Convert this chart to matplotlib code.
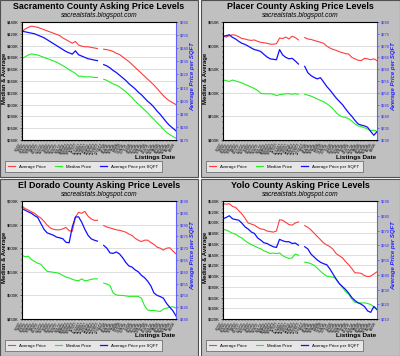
import numpy as np
import matplotlib
matplotlib.use("Agg")
import matplotlib.pyplot as plt
from matplotlib.patches import Rectangle
from matplotlib.ticker import FuncFormatter, MultipleLocator, AutoMinorLocator

plt.rcParams['font.family'] = ['Liberation Sans', 'DejaVu Sans']

nan = np.nan

# Listing dates (weekly), one tick per sample
dates = ['7/2/07', '7/9/07', '7/16/07', '7/23/07', '7/30/07', '8/6/07', '8/13/07', '8/20/07',
         '8/27/07', '9/3/07', '9/10/07', '9/17/07', '9/24/07', '10/1/07', '10/8/07', '10/15/07',
         '10/22/07', '10/29/07', '11/5/07', '11/12/07', '11/19/07', '11/26/07', '12/3/07',
         '12/10/07', '12/17/07', '12/24/07', '12/31/07', '1/7/08', '1/14/08', '1/21/08',
         '1/28/08', '2/4/08', '2/11/08', '2/18/08', '2/25/08', '3/3/08', '3/10/08', '3/17/08',
         '3/24/08', '3/31/08', '4/7/08', '4/14/08', '4/21/08', '4/28/08', '5/5/08', '5/12/08',
         '5/19/08', '5/26/08', '6/2/08', '6/9/08']

###############################################################
# Sacramento ($K, $/sqft)
###############################################################
sac_avg = [424, 428, 431, 433, 432, 431, 429, 427, 425, 423, 421, 419, 417, 413, 410, 407, 404, 407,
           401, 399, 398, 398, 397, 396, 395, nan, 394, 393, 392, 390, 387, 385, 381, 377, 373, 368,
           363, 358, 353, 348, 343, 338, 333, 327, 321, 315, 310, 306, 303, 300]
sac_med = [378, 381, 384, 386, 385, 384, 382, 380, 378, 376, 374, 372, 369, 366, 363, 359, 356, 353,
           348, 348, 347, 347, 347, 346, 346, nan, 343, 341, 338, 335, 333, 330, 326, 322, 317, 312,
           306, 301, 296, 291, 286, 280, 275, 269, 264, 258, 253, 249, 246, 243]
sac_sqft = [253, 252.5, 252, 251.5, 251, 250, 249, 248, 246.5, 245, 243.5, 242, 240.5, 239, 237.5,
            236.5, 235.5, 238, 235, 234, 233, 232, 231.5, 231, 230.5, nan, 227.5, 226.5, 225, 223,
            221.5, 219.5, 217.5, 215.5, 213, 211, 209, 206.5, 204.5, 202, 199.5, 197.5, 195, 192,
            189.5, 186.5, 183.5, 181, 179, 177]

###############################################################
# Placer
###############################################################
pla_avg = [620, 618, 621, 623, 622, 619, 615, 614, 612, 611, 612, 609, 607, 606, 605, 603, 603, 604,
           616, 615, 618, 614, 620, 617, 612, nan, 617, 614, 613, 611, 609, 607, 605, 599, 595, 592,
           590, 587, 585, 583, 582, 575, 572, 569, 568, 573, 572, 570, 572, 568]
pla_med = [527, 526, 524, 527, 525, 523, 521, 518, 515, 512, 509, 505, 499, 498, 498, 498, 497, 494,
           496, 497, 498, 498, 497, 498, 497, nan, 497, 495, 493, 490, 487, 484, 481, 477, 472, 466,
           458, 452, 449, 448, 445, 440, 434, 430, 428, 426, 423, 420, 421, 418]
pla_sqft = [274, 274.2, 274.6, 273.5, 272.8, 271.8, 271, 270.5, 269.8, 269, 268.3, 268, 267.5, 266.3,
            265.2, 264.4, 264.2, 264, 268.3, 266, 265, 264.4, 264.6, 263.5, 262.2, nan, 261.2, 258.5,
            257.3, 256.5, 255.9, 256.4, 254.6, 252.7, 251.2, 249.5, 247.8, 246.4, 245, 243.2, 241.5,
            240, 238.3, 236.8, 236.3, 236, 235.4, 233.6, 232, 233.5]

###############################################################
# El Dorado
###############################################################
eld_avg = [689, 684, 681, 677, 674, 668, 664, 657, 649, 643, 640, 639, 639, 641, 644, 637, 636, 666,
           676, 674, 678, 668, 662, 659, 659, nan, 648, 645, 643, 641, 639, 638, 636, 634, 630, 627,
           621, 617, 614, 617, 617, 612, 608, 602, 600, 596, 600, 601, 594, 588]
eld_med = [585, 582, 583, 576, 572, 568, 566, 558, 551, 550, 549, 548, 546, 542, 539, 537, 534, 532,
           531, 535, 531, 532, 534, 535, 535, nan, 526, 524, 521, 505, 501, 500, 500, 499, 498, 498,
           498, 498, 494, 478, 469, 468, 468, 467, 466, 471, 473, 475, 476, 473]
eld_sqft = [286.8, 286.1, 285.4, 284.8, 283.8, 283, 280.5, 278, 276.5, 276, 275.5, 274.7, 274.4, 274,
            272.5, 272.3, 279, 283.2, 283.3, 281, 278, 275.5, 274, 273.4, 273, nan, 271.2, 270, 268,
            267.8, 268.4, 267.6, 266, 264, 262.5, 262, 260.8, 260, 258.5, 257.5, 256, 254, 251, 250,
            249.5, 248.8, 246.6, 245, 243.5, 241.3]

###############################################################
# Yolo
###############################################################
yol_avg = [535, 534, 535, 530, 528, 522, 516, 508, 499, 497, 495, 491, 488, 487, 484, 483, 482, 484,
           505, 504, 500, 496, 495, 499, 501, nan, 494, 491, 486, 480, 474, 468, 462, 458, 455, 450,
           442, 438, 434, 427, 421, 414, 406, 406, 405, 401, 399, 400, 404, 408]
yol_med = [487, 486, 483, 480, 478, 474, 471, 466, 462, 459, 456, 453, 451, 447, 445, 442, 443, 442,
           443, 438, 435, 433, 434, 441, 439, nan, 426, 425, 423, 420, 415, 409, 404, 400, 399, 398,
           395, 386, 379, 371, 366, 357, 351, 350, 350, 350, 349, 347, 343, 338]
yol_sqft = [278, 278.8, 280, 278, 277.4, 277, 275, 272.5, 271, 269, 268, 265, 263.5, 261.7, 261.2, 260,
            259, 258.5, 264, 263, 262.4, 262.4, 261.2, 261.5, 260, nan, 259, 257.5, 254, 252, 250,
            248.5, 247.5, 246.8, 244, 240.5, 237, 234, 232, 230, 227.5, 224.5, 222.5, 221, 220,
            218.5, 215.5, 214.5, 218.5, 216.3]

W, H = 400.0, 356.0
fig = plt.figure(figsize=(4, 3.56), dpi=100, facecolor='white')


def draw_panel(px0, py0, pw, ph, title, avg, med, sqft, ylim, ystep, y2lim, y2step):
    # px0, py0: top-left corner of the panel in pixels
    def fx(x):
        return (px0 + x) / W

    def fy(y):
        return 1 - (py0 + y) / H

    fig.patches.append(Rectangle((fx(0), fy(ph)), pw / W, ph / H, transform=fig.transFigure,
                                 facecolor='#c0c0c0', edgecolor='#505050', lw=0.8, zorder=-5))
    fig.text(fx(pw / 2), fy(6.5), title, ha='center', va='center', fontsize=6.4, fontweight='bold')
    fig.text(fx(pw / 2), fy(15.5), 'sacrealstats.blogspot.com', ha='center', va='center',
             fontsize=4.8, style='italic')

    left, top, right, bottom = 22, 22, 176, 140
    ax = fig.add_axes([fx(left), fy(bottom), (right - left) / W, (bottom - top) / H])
    ax.set_facecolor('white')
    x = np.arange(len(dates))
    l1, = ax.plot(x, avg, color='#ff3c3c', lw=0.8, label='Average Price')
    l2, = ax.plot(x, med, color='#22ee22', lw=0.8, label='Median Price')
    ax.set_xlim(0, len(dates) - 1)
    ax.set_ylim(*ylim)
    ax.yaxis.set_major_locator(MultipleLocator(ystep))
    ax.yaxis.set_minor_locator(AutoMinorLocator(4))
    ax.yaxis.set_major_formatter(FuncFormatter(lambda v, p: '$%dK' % round(v)))
    ax.yaxis.grid(True, color='#d8d8d8', lw=0.6)
    ax.set_axisbelow(True)
    ax.tick_params(axis='y', labelsize=3.0, length=1.5, width=0.4, pad=1)
    ax.tick_params(axis='y', which='minor', length=1, width=0.3)
    ax.set_xticks(x)
    ax.set_xticklabels(dates, rotation=60, ha='right', fontsize=2.4)
    ax.tick_params(axis='x', length=1.2, width=0.3, pad=0.5)
    for s in ax.spines.values():
        s.set_linewidth(0.5)
        s.set_color('#808080')

    ax2 = ax.twinx()
    l3, = ax2.plot(x, sqft, color='#1010ff', lw=0.9, label='Average Price per SQFT')
    ax2.set_ylim(*y2lim)
    ax2.yaxis.set_major_locator(MultipleLocator(y2step))
    ax2.yaxis.set_minor_locator(AutoMinorLocator(4))
    ax2.yaxis.set_major_formatter(FuncFormatter(lambda v, p: '$%d' % round(v)))
    ax2.tick_params(axis='y', labelsize=3.0, length=1.5, width=0.4, pad=1,
                    colors='#3030ff')
    ax2.tick_params(axis='y', which='minor', length=1, width=0.3, colors='#3030ff')
    ax2.spines['right'].set_color('#6060ff')
    ax2.spines['right'].set_linewidth(0.8)

    # axis titles placed in panel pixels
    fig.text(fx(4.5), fy(78), 'Median & Average', rotation=90, ha='center', va='center',
             fontsize=4.3, fontweight='bold')
    fig.text(fx(192.5), fy(77), 'Average Price per SQFT', rotation=90, ha='center', va='center',
             fontsize=4.3, fontweight='bold', style='italic', color='#2020ff')
    fig.text(fx(175), fy(157), 'Listings Date', ha='right', va='center', fontsize=4.6,
             fontweight='bold')

    leg = ax.legend([l1, l2, l3], ['Average Price', 'Median Price', 'Average Price per SQFT'],
                    loc='lower left', bbox_to_anchor=(fx(3), fy(174)), bbox_transform=fig.transFigure,
                    ncol=3, fontsize=3.2, frameon=True, fancybox=False, handlelength=1.6,
                    columnspacing=2.0, borderpad=0.7, handletextpad=0.9)
    leg.get_frame().set_facecolor('#f0f0f0')
    leg.get_frame().set_edgecolor('#404040')
    leg.get_frame().set_linewidth(0.5)


draw_panel(0, 0, 198, 177, 'Sacramento County Asking Price Levels',
           sac_avg, sac_med, sac_sqft, (240, 440), 20, (170, 260), 10)
draw_panel(201, 0, 199, 177, 'Placer County Asking Price Levels',
           pla_avg, pla_med, pla_sqft, (400, 650), 50, (230, 280), 5)
draw_panel(0, 179, 198, 177, 'El Dorado County Asking Price Levels',
           eld_avg, eld_med, eld_sqft, (450, 700), 50, (240, 290), 5)
draw_panel(201, 179, 199, 177, 'Yolo County Asking Price Levels',
           yol_avg, yol_med, yol_sqft, (320, 540), 20, (210, 290), 10)

fig.savefig('out.png', dpi=100, facecolor='white')
